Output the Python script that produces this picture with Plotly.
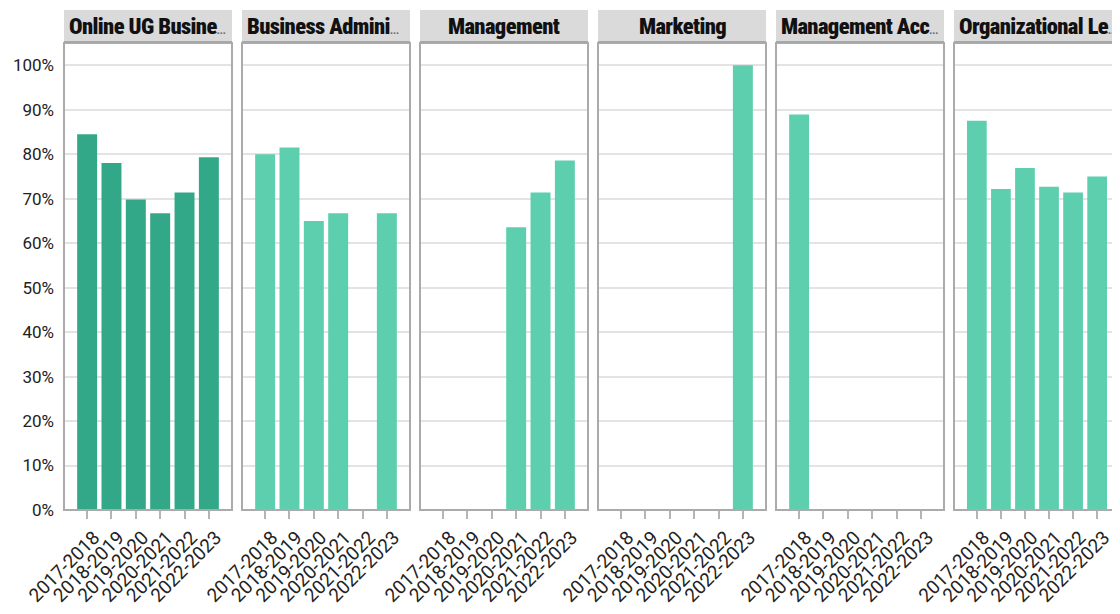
import plotly.graph_objects as go

years = ["2017-2018", "2018-2019", "2019-2020", "2020-2021", "2021-2022", "2022-2023"]
programs = ["Online UG Business", "Business Administration", "Management", "Marketing",
            "Management Accounting", "Organizational Leadership"]
header_labels = ["Online UG Busine", "Business Admini", "Management", "Marketing",
                 "Management Acc", "Organizational Le"]
truncated = [True, True, False, False, True, True]

online_ug = [0.845, 0.78, 0.698, 0.667, 0.714, 0.793]
business_admin = [0.80, 0.815, 0.65, 0.667, None, 0.667]
management = [None, None, None, 0.636, 0.714, 0.786]
marketing = [None, None, None, None, None, 1.0]
mgmt_accounting = [0.889, None, None, None, None, None]
org_leadership = [0.875, 0.722, 0.769, 0.727, 0.714, 0.75]
series = [online_ug, business_admin, management, marketing, mgmt_accounting, org_leadership]
colors = ["#33a889", "#5dcfae", "#5dcfae", "#5dcfae", "#5dcfae", "#5dcfae"]

# the page body adds an 8px offset, so the figure is sized to fill the rest of the window
W, H = 1112, 606
ML, MR, MT, MB = 56, 0, 35, 104
pw = W - ML - MR
ph = H - MT - MB
step, panel_w = 178, 168
header_h = 33

head_font = dict(family="Roboto, DejaVu Sans Condensed, sans-serif", size=22.5, color="#111", weight=900)
COND = "<span style='font-stretch:condensed;letter-spacing:-0.6px'>{}</span>"
ELLIPSIS = "<span style='font-size:10px;color:#666;letter-spacing:0px'>...</span>"

fig = go.Figure()
shapes, annotations = [], []
for i, (vals, col) in enumerate(zip(series, colors)):
    xa = "x" if i == 0 else f"x{i+1}"
    fig.add_trace(go.Bar(x=years, y=vals, marker=dict(color=col, line=dict(width=0)),
                         xaxis=xa, yaxis="y", name=programs[i], showlegend=False,
                         hovertemplate="%{x}: %{y:.1%}<extra>" + programs[i] + "</extra>"))
    d0 = step * i / pw
    d1 = min((step * i + panel_w) / pw, 1.0)
    key = "xaxis" if i == 0 else f"xaxis{i+1}"
    fig.layout[key] = dict(
        domain=[d0, d1], anchor="y", type="category", categoryorder="array",
        categoryarray=years, range=[-0.95, 5.95],
        showline=False,
        ticks="outside", ticklen=8, tickwidth=2, tickcolor="#b5b5b5",
        tickangle=-45, ticklabelshift=7,
        tickfont=dict(family="Roboto, Noto Sans, sans-serif", size=19, color="#222"),
        showgrid=False, zeroline=False, fixedrange=True,
    )
    # panel frame
    shapes.append(dict(type="rect", xref="paper", yref="paper", x0=d0, x1=d1,
                       y0=0, y1=1, fillcolor="rgba(0,0,0,0)",
                       line=dict(color="#ababab", width=2), layer="above"))
    # header
    shapes.append(dict(type="rect", xref="paper", yref="paper", x0=d0, x1=d1,
                       y0=1, y1=1 + header_h / ph, fillcolor="#dadada",
                       line=dict(width=0), layer="below"))
    shapes.append(dict(type="line", xref="paper", yref="paper", x0=d0, x1=d1,
                       y0=1 + 1 / ph, y1=1 + 1 / ph, line=dict(color="#a8a8a8", width=2)))
    if truncated[i]:
        txt = COND.format(header_labels[i]) + ELLIPSIS
        annotations.append(dict(text=txt, xref="paper", yref="paper",
                                x=d0 + 3 / pw, xanchor="left",
                                y=1 + (header_h / 2) / ph, yanchor="middle", showarrow=False,
                                font=head_font))
    else:
        annotations.append(dict(text=COND.format(header_labels[i]), xref="paper", yref="paper",
                                x=(d0 + d1) / 2, xanchor="center",
                                y=1 + (header_h / 2) / ph, yanchor="middle", showarrow=False,
                                font=head_font))

fig.update_layout(
    width=W, height=H, margin=dict(l=ML, r=MR, t=MT, b=MB, autoexpand=False),
    paper_bgcolor="white", plot_bgcolor="white",
    bargap=0.18,
    yaxis=dict(range=[0, 1.05], tickvals=[i / 10 for i in range(11)], tickformat=".0%",
               showgrid=True, gridcolor="#e3e3e3", gridwidth=2, zeroline=False,
               showline=False, ticks="", ticklabelstandoff=9,
               tickfont=dict(family="Roboto, Noto Sans, sans-serif", size=17, color="#222"),
               fixedrange=True),
    shapes=shapes, annotations=annotations,
)

fig.write_html("out.html")
